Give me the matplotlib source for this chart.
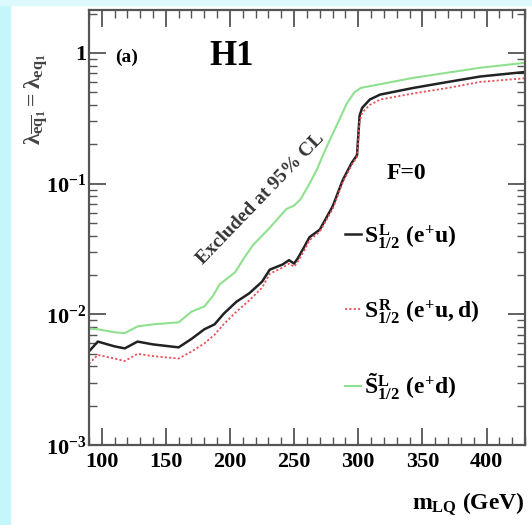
import math
import matplotlib
matplotlib.use("Agg")
import matplotlib.pyplot as plt
from matplotlib.patches import Rectangle
from matplotlib.ticker import FixedLocator, FuncFormatter, LogLocator, NullFormatter

# exclusion limits on the coupling vs leptoquark mass (GeV)
mass_sl = [90, 97, 110, 118, 128, 140, 160, 170, 180, 188, 195, 205, 215, 225,
           231, 241, 246, 250, 253, 258, 262, 270, 280, 288, 295, 299, 301, 303,
           309, 317, 343, 370, 395, 430]
lam_sl = [0.0052, 0.0062, 0.0057, 0.0055, 0.0062, 0.0059, 0.0056, 0.0065, 0.0077,
          0.0084, 0.0101, 0.0125, 0.0145, 0.0178, 0.022, 0.0241, 0.026, 0.0245,
          0.027, 0.033, 0.039, 0.0445, 0.067, 0.107, 0.145, 0.165, 0.33, 0.38,
          0.44, 0.48, 0.54, 0.60, 0.66, 0.715]

mass_sr = mass_sl
lam_sr = [0.0042, 0.0049, 0.0046, 0.0044, 0.0050, 0.0048, 0.0046, 0.0052, 0.0060,
          0.0070, 0.0084, 0.0105, 0.0128, 0.0160, 0.0205, 0.0228, 0.0245, 0.0232,
          0.0255, 0.031, 0.037, 0.043, 0.064, 0.103, 0.14, 0.16, 0.30, 0.35,
          0.40, 0.44, 0.49, 0.54, 0.60, 0.64]

mass_stl = [90, 97, 110, 118, 128, 140, 160, 170, 180, 187, 192, 204, 212, 218,
            225, 231, 238, 244, 250, 255, 262, 268, 273, 280, 286, 291, 297, 302,
            343, 395, 430]
lam_stl = [0.0078, 0.0077, 0.0073, 0.0072, 0.0081, 0.0084, 0.0087, 0.0105, 0.0115,
           0.014, 0.017, 0.021, 0.028, 0.034, 0.040, 0.046, 0.055, 0.064, 0.068,
           0.076, 0.10, 0.13, 0.17, 0.24, 0.32, 0.41, 0.50, 0.54, 0.645, 0.77, 0.84]

xticks = [100, 150, 200, 250, 300, 350, 400]

plt.rcParams['font.family'] = "Liberation Serif"
plt.rcParams['font.weight'] = "bold"
plt.rcParams['axes.labelweight'] = "bold"
plt.rcParams['mathtext.fontset'] = "custom"
plt.rcParams['mathtext.rm'] = "Liberation Serif:bold"
plt.rcParams['mathtext.it'] = "Liberation Serif:bold"
plt.rcParams['mathtext.bf'] = "Liberation Serif:bold"

fig = plt.figure(figsize=(5.32, 5.25), dpi=100)
# pale cyan frame strips
fig.patches.append(Rectangle((0, 0), 0.019, 1, transform=fig.transFigure,
                             color="#c4f6fa", zorder=-1))
fig.patches.append(Rectangle((0, 0.99), 1, 0.01, transform=fig.transFigure,
                             color="#dcfafc", zorder=-1))
ax = fig.add_axes([0.167, 0.152, 0.82, 0.829])

ax.plot(mass_stl, lam_stl, color="#8fe08f", lw=1.5, label=r"$\tilde{S}^{L}_{1/2}\ (e^{+}d)$")
ax.plot(mass_sl, lam_sl, color="#222222", lw=1.8, label=r"$S^{L}_{1/2}\ (e^{+}u)$")
ax.plot(mass_sr, lam_sr, color="#e8505a", lw=1.3, ls=(0, (1.2, 1.2)),
        label=r"$S^{R}_{1/2}\ (e^{+}u,d)$")

ax.set_yscale("log")
ax.set_xlim(90, 430)
ax.set_ylim(1e-3, 2.13)

ax.xaxis.set_major_locator(FixedLocator(xticks))
ax.xaxis.set_minor_locator(FixedLocator(range(90, 431, 10)))
ax.yaxis.set_major_locator(LogLocator(base=10))
ax.yaxis.set_minor_locator(LogLocator(base=10, subs=range(2, 10)))
ax.yaxis.set_minor_formatter(NullFormatter())

def ylab(v, pos):
    if abs(v - 1) < 1e-9:
        return "1"
    return r"$10^{%d}$" % int(round(math.log10(v)))

ax.yaxis.set_major_formatter(FuncFormatter(ylab))
ax.tick_params(which="both", direction="in", top=True, right=True,
               color="#555555", labelsize=16)
ax.tick_params(which="major", length=12, width=1.3, pad=5)
ax.tick_params(which="minor", length=6, width=1.0)
ax.tick_params(axis="y", which="major", pad=2)
for s in ax.spines.values():
    s.set_linewidth(1.6)
    s.set_color("#555555")

ax.set_ylabel(r"$\lambda_{\overline{eq}_1}=\lambda_{eq_1}$", fontsize=17, color="#444444")
ax.yaxis.set_label_coords(-0.09, 0.795)
ax.set_xlabel(r"$m_{LQ}$ (GeV)", fontsize=17, loc="right")
ax.xaxis.set_label_coords(1.0, -0.105)

ax.text(0.087, 0.892, "(a)", transform=ax.transAxes, fontsize=14,
        ha="center", va="center")
ax.text(0.328, 0.892, "H1", transform=ax.transAxes, fontsize=25,
        ha="center", va="center")
ax.text(0.727, 0.625, "F=0", transform=ax.transAxes, fontsize=17,
        ha="center", va="center")
ax.text(0.394, 0.565, "Excluded at 95% CL", transform=ax.transAxes, fontsize=14,
        ha="center", va="center", rotation=46, color="#333333")

handles, labels = ax.get_legend_handles_labels()
order = [1, 2, 0]
ax.legend([handles[i] for i in order], [labels[i] for i in order],
          loc="upper left", bbox_to_anchor=(0.565, 0.535), frameon=False,
          fontsize=17, handlelength=0.7, handletextpad=0.1, labelspacing=1.95,
          borderaxespad=0)

fig.savefig("out.png", dpi=100)
